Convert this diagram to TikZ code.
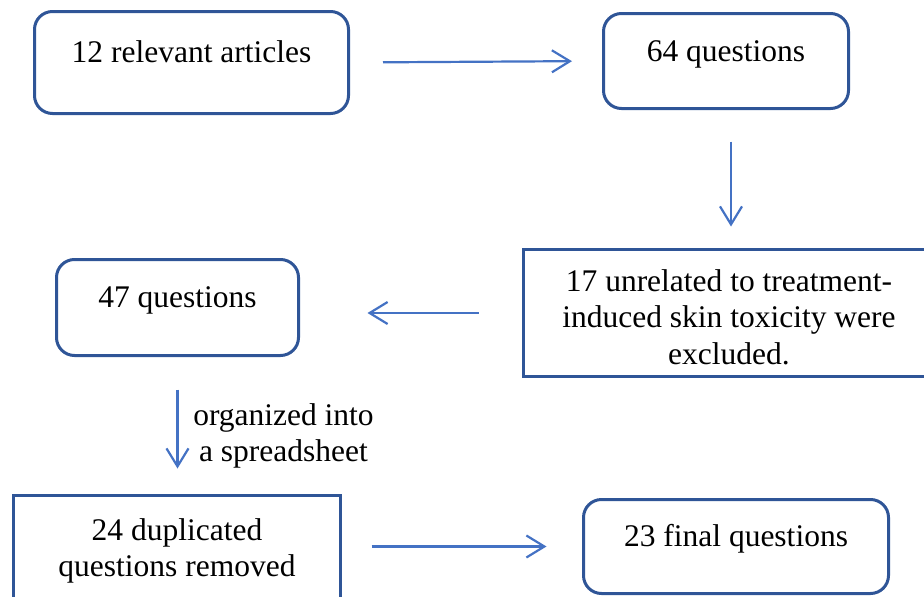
\documentclass[tikz,border=0pt]{standalone}
\usepackage{fontspec}
\setmainfont{Liberation Serif}
\usetikzlibrary{arrows.meta}
\definecolor{boxblue}{HTML}{2F5597}
\definecolor{arrblue}{HTML}{4472C4}
\begin{document}
\begin{tikzpicture}[x=1pt,y=-1pt,
  font=\fontsize{31.5}{36.5}\selectfont,
  roundbox/.style={draw=boxblue,line width=3pt,rounded corners=18pt,text height=20pt,text depth=20pt},
  squarebox/.style={draw=boxblue,line width=3pt,align=center},
  arr/.style={draw=arrblue,line width=2.2pt,-{Straight Barb[length=18pt,width=22pt]}}]

\clip (0,0) rectangle (924,597);

\node[roundbox,minimum width=314pt,minimum height=102pt] (art) at (191.5,62.5) {12 relevant articles};
\node[roundbox,minimum width=245pt,minimum height=95pt] (q64) at (726,61) {64 questions};
\node[squarebox,minimum width=411pt,minimum height=127pt] (excl) at (729,313) {\rule{0pt}{30pt}17 unrelated to treatment-\\induced skin toxicity were\\excluded.};
\node[roundbox,minimum width=242pt,minimum height=96pt] (q47) at (177.5,307.5) {47 questions};
\node[squarebox,minimum width=327pt,minimum height=111pt] (dup) at (177,551) {24 duplicated\\questions removed};
\node[roundbox,minimum width=305pt,minimum height=94pt] (fin) at (736,546.5) {23 final questions};

\draw[arr,shorten <=33pt,shorten >=30pt] (art.east) -- (q64.west);
\draw[arr,shorten <=31.5pt,shorten >=21.5pt] ([xshift=5pt]q64.south) -- ([xshift=5pt]q64.south |- excl.north);
\draw[arr,shorten <=43.5pt,shorten >=67.5pt] (excl.west) -- (excl.west -| q47.east);
\draw[arr,shorten <=32.5pt,shorten >=25.5pt] (q47.south) -- (q47.south |- dup.north);
\node[align=center] (sheet) at (283.5,436) {organized into\\a spreadsheet};
\draw[arr,shorten <=29.5pt,shorten >=35.5pt] (fin.west -| dup.east) -- (fin.west);
\end{tikzpicture}
\end{document}
